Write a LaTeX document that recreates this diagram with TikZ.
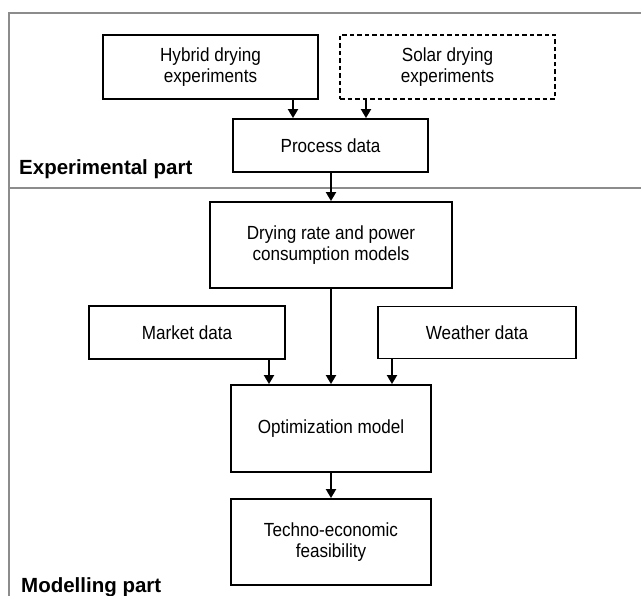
\documentclass[tikz,border=0pt]{standalone}
\usepackage{fontspec}
\setmainfont{Liberation Sans}[FakeStretch=0.9]
\newfontfamily\partfont{Liberation Sans}
\usetikzlibrary{positioning}
\usetikzlibrary{arrows.meta}

\begin{document}
\begin{tikzpicture}[x=1pt,y=-1pt]

\tikzset{block/.style = {draw, line width=1.8pt, align=center, inner sep=0pt,
  font=\fontsize{19}{20.7}\selectfont}}
\tikzset{edge/.style = {-{Triangle[length=9pt,width=10pt]}, line width=1.9pt}}
\tikzset{part/.style = {anchor=base west, inner sep=0pt, font=\partfont\fontsize{20.5}{24}\selectfont\bfseries}}

\useasboundingbox (0,0) rectangle (641,596);

%frame
\draw[gray!90, line width=1.4pt] (9,620) |- (660,13);
\draw[gray!90, line width=1.4pt] (9,188) -- (660,188);

%blocks
\node[block, minimum width=215pt, minimum height=64pt] (hybrid) at (210.5,67) {Hybrid drying\\experiments};
\node[block, dashed, dash pattern=on 4.5pt off 3pt, minimum width=215pt, minimum height=64pt] (solar) at (447.5,67) {Solar drying\\experiments};
\node[block, minimum width=195pt, minimum height=53pt] (process) at (330.5,145.5) {Process data};
\node[block, minimum width=242pt, minimum height=86pt] (rates) at (331,245) {Drying rate and power\\consumption models};
\node[block, minimum width=196pt, minimum height=53pt] (market) at (187,332.5) {Market data};
\node[block, minimum width=198pt, minimum height=52pt] (weather) at (477,332.5) {Weather data};
\node[block, minimum width=200pt, minimum height=87pt] (optim) at (331,428.5) {Optimization model};
\node[block, minimum width=200pt, minimum height=86pt] (feasib) at (331,542) {Techno-economic\\feasibility};

%labels
\node[part] (exppart) at (19,175) {Experimental part};
\node[part] (modpart) at (21,592) {Modelling part};

%edges
\draw[edge] ([xshift=82.5]hybrid.south) -- ([xshift=82.5]hybrid.south |- process.north);
\draw[edge] ([xshift=-81.5]solar.south) -- ([xshift=-81.5]solar.south |- process.north);
\draw[edge] (process.south -| rates.north) -- (rates.north);
\draw[edge] (rates) -- (optim);
\draw[edge] ([xshift=82]market.south) -- ([xshift=82]market.south |- optim.north);
\draw[edge] ([xshift=-85]weather.south) -- ([xshift=-85]weather.south |- optim.north);
\draw[edge] (optim) -- (feasib);

\end{tikzpicture}
\end{document}
